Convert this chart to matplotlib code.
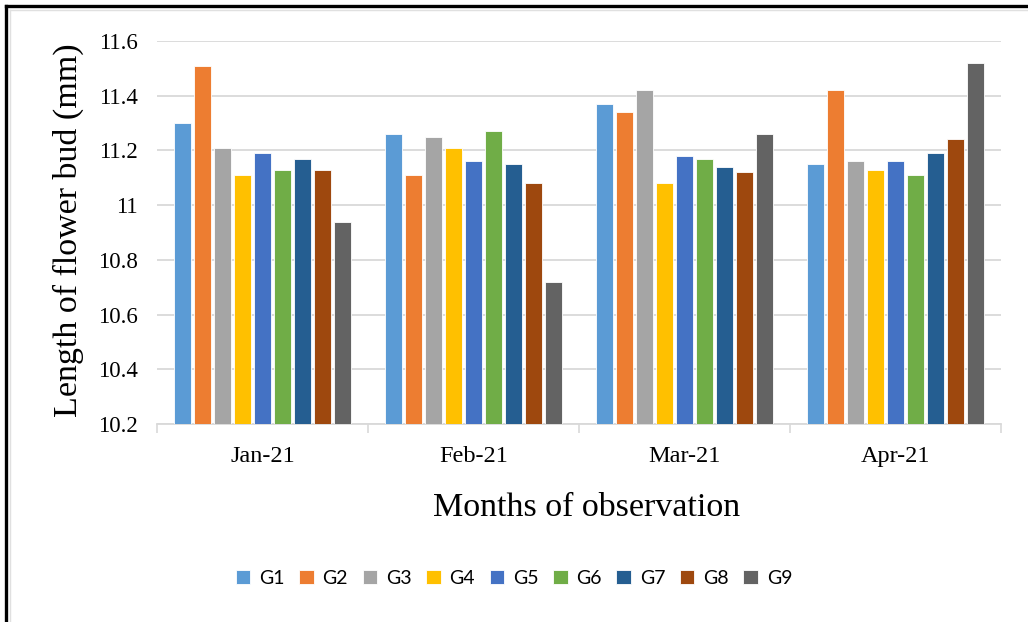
# Flower bud length by month, grouped bars G1..G9
import numpy as np
import matplotlib.pyplot as plt
from matplotlib.lines import Line2D

months = ['Jan-21', 'Feb-21', 'Mar-21', 'Apr-21']
groups = ['G1', 'G2', 'G3', 'G4', 'G5', 'G6', 'G7', 'G8', 'G9']

g1 = [11.30, 11.26, 11.37, 11.15]
g2 = [11.51, 11.11, 11.34, 11.42]
g3 = [11.21, 11.25, 11.42, 11.16]
g4 = [11.11, 11.21, 11.08, 11.13]
g5 = [11.19, 11.16, 11.18, 11.16]
g6 = [11.13, 11.27, 11.17, 11.11]
g7 = [11.17, 11.15, 11.14, 11.19]
g8 = [11.13, 11.08, 11.12, 11.24]
g9 = [10.94, 10.72, 11.26, 11.52]
series = [g1, g2, g3, g4, g5, g6, g7, g8, g9]

colors = ['#5B9BD5', '#ED7D31', '#A5A5A5', '#FFC000', '#4472C4',
          '#70AD47', '#255E91', '#9E480E', '#636363']

serif = ['Liberation Serif', 'DejaVu Serif']

fig = plt.figure(figsize=(10.28, 6.22), dpi=100)
ax = fig.add_axes([157 / 1028, 1 - 424 / 622, 844 / 1028, 383 / 622])

x = np.arange(len(months))
pitch = 0.095
width = 0.083
base = 10.2
for i, (vals, c, name) in enumerate(zip(series, colors, groups)):
    off = (i - 4) * pitch
    heights = np.array(vals) - base
    ax.bar(x + off, heights, width, bottom=base, color=c, label=name,
           edgecolor='white', linewidth=0.6, zorder=3)

ax.set_xlim(-0.5, 3.5)
ax.set_ylim(10.2, 11.6)
ax.set_yticks([10.2, 10.4, 10.6, 10.8, 11.0, 11.2, 11.4, 11.6])
ax.set_yticklabels(['10.2', '10.4', '10.6', '10.8', '11', '11.2', '11.4', '11.6'],
                   family=serif, fontsize=16.5)
ax.set_xticks(x)
ax.set_xticklabels(months, family=serif, fontsize=17.5)
ax.set_xticks([-0.5, 0.5, 1.5, 2.5, 3.5], minor=True)
ax.tick_params(axis='x', which='major', length=0, pad=16)
ax.tick_params(axis='x', which='minor', length=6.5, color='#D9D9D9', width=1.2)
ax.tick_params(axis='y', length=0, pad=14)

ax.grid(axis='y', color='#D9D9D9', linewidth=1.3, zorder=0)
for s in ['top', 'right', 'left']:
    ax.spines[s].set_visible(False)
ax.spines['bottom'].set_color('#D9D9D9')
ax.spines['bottom'].set_linewidth(1.3)

fig.text(587 / 1028, 1 - 508 / 622, 'Months of observation', family=serif,
         fontsize=24.5, ha='center', va='center')
fig.text(68 / 1028, 1 - 230 / 622, 'Length of flower bud (mm)', family=serif,
         fontsize=24.5, rotation=90, ha='center', va='center')

fig.legend(loc='center', bbox_to_anchor=(514 / 1028, 1 - 578 / 622), ncol=9,
           frameon=False, handlelength=0.75, handleheight=0.75,
           handletextpad=0.45, columnspacing=0.75,
           prop={'family': ['Lato', 'DejaVu Sans'], 'size': 14})

# outer black frame and inner light border
fig.add_artist(Line2D([5.5 / 1028, 5.5 / 1028], [0, 1 - 5.5 / 622],
                      color='black', linewidth=2.4, transform=fig.transFigure))
fig.add_artist(Line2D([5.5 / 1028, 1], [1 - 5.5 / 622, 1 - 5.5 / 622],
                      color='black', linewidth=2.4, transform=fig.transFigure))
fig.add_artist(Line2D([10 / 1028, 10 / 1028], [0, 1 - 10 / 622],
                      color='#E0E0E0', linewidth=1.0, transform=fig.transFigure))
fig.add_artist(Line2D([10 / 1028, 1], [1 - 10 / 622, 1 - 10 / 622],
                      color='#E0E0E0', linewidth=1.0, transform=fig.transFigure))

fig.savefig('out.png', dpi=100)
